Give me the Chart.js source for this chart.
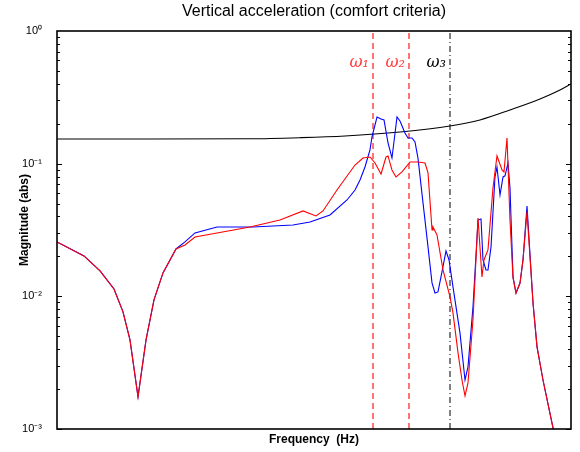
<!DOCTYPE html>
<html><head><meta charset="utf-8">
<script src="https://cdn.jsdelivr.net/npm/chart.js@4/dist/chart.umd.min.js"></script>
<style>html,body{margin:0;padding:0;background:#fff}#wrap{width:580px;height:452px}</style>
</head><body><div id="wrap"><canvas id="c"></canvas></div>
<script>
// Frequency axis in arbitrary units (no tick labels in the original)
const freqRed = [0,5.25,8.37,11.09,12.84,14.20,15.76,17.32,18.87,20.62,23.15,24.90,26.85,37.55,43.38,47.86,50.39,51.75,54.47,57.98,59.53,60.89,61.87,63.04,64.01,64.40,65.17,65.95,67.12,68.68,70.23,71.60,72.18,72.96,73.15,73.93,75.10,76.46,77.04,78.02,78.79,79.38,79.96,80.93,81.91,82.68,83.07,83.85,84.82,85.60,86.58,86.96,87.55,88.13,88.72,89.30,90.08,90.66,91.44,92.61,93.39,94.55,96.50,97.0];
const magRed  = [0.0257,0.02015,0.01553,0.01137,0.00763,0.00469,0.001746,0.00469,0.0094,0.01501,0.02276,0.0244,0.02803,0.03334,0.03764,0.04401,0.04036,0.04401,0.06334,0.0977,0.1104,0.1123,0.1012,0.0836,0.1123,0.1143,0.0896,0.0794,0.0866,0.103,0.103,0.1012,0.0851,0.03164,0.0333,0.02902,0.0158,0.0099,0.0075,0.00375,0.00234,0.001776,0.002226,0.00664,0.03898,0.014,0.0188,0.0224,0.0656,0.1143,0.0896,0.0866,0.1562,0.0376,0.01376,0.0106,0.0126,0.0188,0.0433,0.0089,0.00416,0.00234,0.00102,0.00085];
const freqBlue = [0,5.25,8.37,11.09,12.84,14.20,15.76,17.32,18.87,20.62,23.15,24.90,26.85,31.13,38.13,45.91,49.22,53.11,56.42,57.98,58.95,59.92,60.89,61.28,62.26,63.04,63.62,64.40,65.17,66.15,66.73,67.70,68.29,69.07,69.65,70.23,71.21,72.18,72.96,73.54,74.12,74.90,75.68,76.27,77.04,78.40,79.38,79.96,80.93,81.91,82.49,82.88,83.46,83.85,84.44,85.21,85.60,86.19,86.77,87.16,87.74,88.13,88.72,89.30,90.08,90.66,91.44,92.61,93.39,94.55,96.50,97.0];
const magBlue  = [0.0257,0.02015,0.01553,0.01137,0.00763,0.00469,0.001746,0.00469,0.0094,0.01501,0.02276,0.0257,0.03005,0.03334,0.03334,0.03451,0.03636,0.04107,0.05325,0.0633,0.0754,0.0944,0.1268,0.159,0.2248,0.2172,0.2135,0.1432,0.1104,0.2248,0.2098,0.1703,0.1562,0.1562,0.1457,0.11,0.0506,0.0236,0.01262,0.01061,0.0108,0.0153,0.022,0.0188,0.0118,0.0053,0.00234,0.00294,0.0083,0.0376,0.0383,0.0188,0.0158,0.0158,0.0236,0.0794,0.0944,0.058,0.0794,0.081,0.101,0.0656,0.014,0.0106,0.0126,0.0188,0.048,0.0089,0.00416,0.00234,0.00102,0.00085];
const freqRef = [0,18.09,37.55,47.28,56.03,66.73,76.46,82.29,88.13,93.97,97.86,100];
const magRef  = [0.1535,0.1535,0.154,0.157,0.1618,0.1734,0.1923,0.2135,0.254,0.3074,0.3592,0.399];
const omegaFreq   = [61.48,68.48,76.46];
const omegaLabels = ['ω₁','ω₂','ω₃'];
const omegaLabelLevel = 0.58;
const yTickValues = [1e-3,1e-2,1e-1,1];
const yTickLabels = ['10⁻³','10⁻²','10⁻¹','10⁰'];

const omegaColors = ['#ff3b3b','#ff3b3b','#000000'];
const omegaDash = [[6,4],[6,4],[6,3,1,3]];

Chart.defaults.font.family = '"Liberation Sans", Arial, sans-serif';
Chart.defaults.color = '#000';

const pts = (xs, ys) => xs.map((v,i)=>({x:v,y:ys[i]}));

const datasets = [
  {label:'red', data:pts(freqRed,magRed), borderColor:'#ff0000', borderWidth:1.1, order:1},
  {label:'blue', data:pts(freqBlue,magBlue), borderColor:'#0000ff', borderWidth:1.1, order:2},
  {label:'ref', data:pts(freqRef,magRef), borderColor:'#000000', borderWidth:1.1, cubicInterpolationMode:'monotone', order:3},
];
omegaFreq.forEach((f,i)=>{
  datasets.push({label:omegaLabels[i], data:[{x:f,y:yTickValues[0]},{x:f,y:yTickValues[yTickValues.length-1]}],
    borderColor:omegaColors[i], borderWidth:i<2?1.4:1, borderDash:omegaDash[i], order:4});
});

const framePlugin = {
  id:'frame',
  afterDatasetsDraw(chart){
    const {ctx, chartArea:a, scales:{x,y}} = chart;
    ctx.save();
    ctx.strokeStyle='#000'; ctx.lineWidth=1;
    ctx.beginPath();
    for (let e=-3;e<0;e++) for (let m=1;m<10;m++){
      const v=m*Math.pow(10,e);
      const py=Math.round(y.getPixelForValue(v))+0.5;
      const len = m===1?5:3;
      ctx.moveTo(a.left,py); ctx.lineTo(a.left+len,py);
      ctx.moveTo(a.right,py); ctx.lineTo(a.right-len,py);
    }
    ctx.stroke();
    ctx.lineWidth=1.6;
    ctx.strokeRect(a.left, a.top, a.right-a.left, a.bottom-a.top);
    ctx.font = 'italic 16px "DejaVu Serif", serif';
    ctx.textAlign='right'; ctx.textBaseline='middle';
    omegaFreq.forEach((f,i)=>{
      ctx.fillStyle=omegaColors[i];
      ctx.fillText(omegaLabels[i], x.getPixelForValue(f)-4, y.getPixelForValue(omegaLabelLevel));
    });
    ctx.restore();
  }
};

new Chart(document.getElementById('c'), {
  type:'line',
  data:{datasets},
  plugins:[framePlugin],
  options:{
    responsive:true, maintainAspectRatio:false, animation:false,
    events:[],
    elements:{point:{radius:0}, line:{tension:0, fill:false}},
    layout:{padding:{left:0,right:9,top:0,bottom:0}},
    plugins:{
      legend:{display:false}, tooltip:{enabled:false},
      title:{display:true, text:'Vertical acceleration (comfort criteria)', fullSize:false,
        font:{size:16, weight:'normal', lineHeight:1}, padding:{top:4,bottom:11}, color:'#000'}
    },
    scales:{
      x:{type:'linear', min:0, max:100,
        grid:{display:false}, border:{display:false}, ticks:{display:false},
        title:{display:true, text:'Frequency  (Hz)', font:{size:12, weight:'bold'}, padding:{top:0,bottom:5}},
        afterFit(s){ s.height = 23; }
      },
      y:{type:'logarithmic', min:1e-3, max:1,
        grid:{display:false}, border:{display:false},
        afterBuildTicks(s){ s.ticks = yTickValues.map(v=>({value:v})); },
        ticks:{autoSkip:false, padding:7, font:{size:11}, callback:(v,i)=>yTickLabels[i]},
        title:{display:true, text:'      Magnitude (abs)', font:{size:12, weight:'bold'}, padding:{top:17,bottom:0}},
        afterFit(s){ s.width = 57; }
      }
    }
  }
});
</script></body></html>
